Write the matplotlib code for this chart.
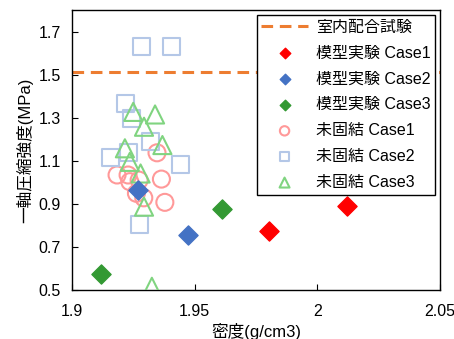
import matplotlib
matplotlib.use("Agg")
import matplotlib.pyplot as plt

plt.rcParams["font.family"] = ["Liberation Sans", "Noto Sans CJK JP", "DejaVu Sans"]

# 室内配合試験の強度 (MPa)
lab_strength = 1.51

# 模型実験
model_c1_x = [1.9802, 2.0122]
model_c1_y = [0.774, 0.890]
model_c2_x = [1.9473, 1.9269]
model_c2_y = [0.755, 0.964]
model_c3_x = [1.9613, 1.9117]
model_c3_y = [0.876, 0.574]

# 未固結
loose_c1_x = [1.9346, 1.9183, 1.9228, 1.9235, 1.9364, 1.9262, 1.9292, 1.9378, 1.9273]
loose_c1_y = [1.137, 1.034, 1.034, 1.003, 1.015, 0.949, 0.928, 0.907, 1.010]
loose_c2_x = [1.9283, 1.9405, 1.9219, 1.9243, 1.9319, 1.9231, 1.9156, 1.9442, 1.9273]
loose_c2_y = [1.632, 1.629, 1.366, 1.297, 1.191, 1.139, 1.114, 1.083, 0.805]
loose_c3_x = [1.9249, 1.9338, 1.9293, 1.9368, 1.9215, 1.9235, 1.9279, 1.9293, 1.9325]
loose_c3_y = [1.327, 1.315, 1.258, 1.173, 1.158, 1.095, 1.041, 0.887, 0.515]

x_ticks = [1.9, 1.95, 2.0, 2.05]
x_tick_labels = ["1.9", "1.95", "2", "2.05"]
y_ticks = [0.5, 0.7, 0.9, 1.1, 1.3, 1.5, 1.7]

fig = plt.figure(figsize=(4.54, 3.39), dpi=100)
ax = fig.add_axes([0.159, 0.1445, 0.81, 0.826])

ax.axhline(lab_strength, color="#ED7D31", lw=2.2, ls=(0, (3.8, 2.2)), label="室内配合試験", zorder=2)

ax.scatter(model_c1_x, model_c1_y, marker="D", s=95, color="#FF0000", label="模型実験 Case1", zorder=4)
ax.scatter(model_c2_x, model_c2_y, marker="D", s=95, color="#4472C4", label="模型実験 Case2", zorder=4)
ax.scatter(model_c3_x, model_c3_y, marker="D", s=95, color="#339933", label="模型実験 Case3", zorder=4)

ax.scatter(loose_c1_x, loose_c1_y, marker="o", s=150, facecolors="none", edgecolors="#FF9999",
           linewidths=1.5, label="未固結 Case1", zorder=3)
ax.scatter(loose_c2_x, loose_c2_y, marker="s", s=150, facecolors="none", edgecolors="#B4C7E7",
           linewidths=1.5, label="未固結 Case2", zorder=3)
ax.scatter(loose_c3_x, loose_c3_y, marker="^", s=170, facecolors="none", edgecolors="#80D480",
           linewidths=1.5, label="未固結 Case3", zorder=3)

ax.set_xlim(1.9, 2.05)
ax.set_ylim(0.5, 1.8)
ax.set_xticks(x_ticks)
ax.set_xticklabels(x_tick_labels)
ax.set_yticks(y_ticks)
ax.tick_params(direction="in", labelsize=11.5, length=4)
ax.tick_params(axis="x", pad=10)
ax.tick_params(axis="y", pad=8)
for s in ax.spines.values():
    s.set_linewidth(1.0)

ax.set_xlabel("密度(g/cm3)", fontsize=12, labelpad=3)
ax.set_ylabel("一軸圧縮強度(MPa)", fontsize=12, labelpad=4)

leg = ax.legend(loc="upper right", fontsize=11.5, frameon=True, fancybox=False,
                edgecolor="black", framealpha=1, labelspacing=0.68, handlelength=2.9,
                borderaxespad=0.3, borderpad=0.3, markerscale=0.55, handletextpad=0.5)
leg.get_frame().set_linewidth(1.0)

fig.savefig("out.png", dpi=100)
